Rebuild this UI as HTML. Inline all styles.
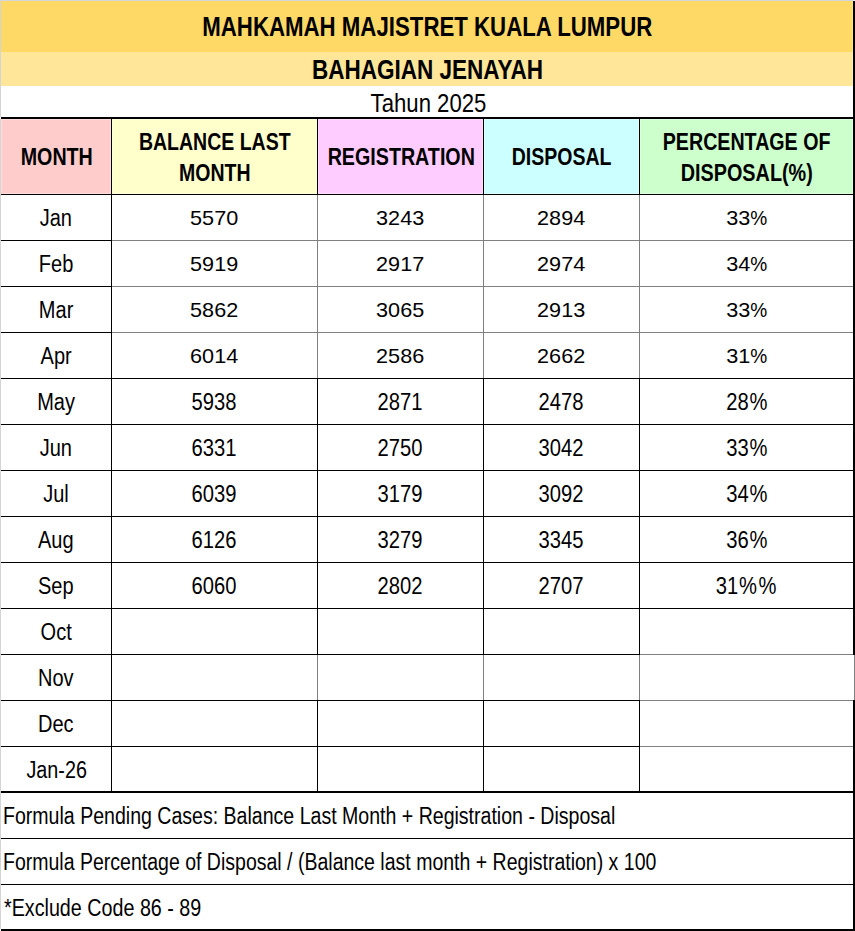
<!DOCTYPE html>
<html lang="ms"><head><meta charset="utf-8"><title>Mahkamah Majistret Kuala Lumpur - Bahagian Jenayah 2025</title>
<style>
html,body{margin:0;padding:0;background:#fff;}
body{width:855px;height:931px;position:relative;overflow:hidden;font-family:"Liberation Sans",sans-serif;color:#000;}
.r{position:absolute;}
.t{position:absolute;white-space:nowrap;}
.t span{display:inline-block;}
.t i{display:inline-block;font-style:normal;transform-origin:50% 50%;}
</style></head><body>
<div class="r" style="left:0px;top:0px;width:855px;height:52px;background:#ffd966"></div>
<div class="r" style="left:0px;top:52px;width:855px;height:34px;background:#ffe699"></div>
<div class="r" style="left:1px;top:119px;width:110px;height:75px;background:#ffcccc;box-shadow:inset 0 0 0 1px #ffdcdc"></div>
<div class="r" style="left:112px;top:119px;width:205px;height:75px;background:#ffffcc;box-shadow:inset 0 0 0 1px #ffffdc"></div>
<div class="r" style="left:318px;top:119px;width:165px;height:75px;background:#ffccff;box-shadow:inset 0 0 0 1px #ffdcff"></div>
<div class="r" style="left:484px;top:119px;width:155px;height:75px;background:#ccffff;box-shadow:inset 0 0 0 1px #dcffff"></div>
<div class="r" style="left:640px;top:119px;width:213px;height:75px;background:#ccffcc;box-shadow:inset 0 0 0 1px #dcffdc"></div>
<div class="r" style="left:0px;top:0px;width:853px;height:1px;background:#d3d5dc"></div>
<div class="r" style="left:853px;top:0px;width:2px;height:1px;background:#f0f0f0"></div>
<div class="r" style="left:0px;top:1px;width:1px;height:116px;background:#d4d4d4"></div>
<div class="r" style="left:0px;top:119px;width:1px;height:810px;background:#d4d4d4"></div>
<div class="r" style="left:852px;top:1px;width:1px;height:51px;background:#ffe47c"></div>
<div class="r" style="left:852px;top:52px;width:1px;height:34px;background:#ffeeb0"></div>
<div class="r" style="left:1px;top:117px;width:854px;height:2px;background:#000"></div>
<div class="r" style="left:1px;top:194px;width:854px;height:1px;background:#000"></div>
<div class="r" style="left:1px;top:240px;width:111px;height:1px;background:#000"></div>
<div class="r" style="left:112px;top:240px;width:741px;height:1px;background:#808080"></div>
<div class="r" style="left:1px;top:286px;width:111px;height:1px;background:#000"></div>
<div class="r" style="left:112px;top:286px;width:741px;height:1px;background:#808080"></div>
<div class="r" style="left:1px;top:332px;width:111px;height:1px;background:#000"></div>
<div class="r" style="left:112px;top:332px;width:741px;height:1px;background:#808080"></div>
<div class="r" style="left:1px;top:378px;width:854px;height:1px;background:#000"></div>
<div class="r" style="left:1px;top:424px;width:854px;height:1px;background:#000"></div>
<div class="r" style="left:1px;top:470px;width:854px;height:1px;background:#000"></div>
<div class="r" style="left:1px;top:516px;width:854px;height:1px;background:#000"></div>
<div class="r" style="left:1px;top:562px;width:854px;height:1px;background:#000"></div>
<div class="r" style="left:1px;top:608px;width:854px;height:1px;background:#000"></div>
<div class="r" style="left:1px;top:654px;width:639px;height:1px;background:#000"></div>
<div class="r" style="left:640px;top:654px;width:215px;height:1px;background:#808080"></div>
<div class="r" style="left:1px;top:700px;width:639px;height:1px;background:#000"></div>
<div class="r" style="left:640px;top:700px;width:215px;height:1px;background:#808080"></div>
<div class="r" style="left:1px;top:746px;width:639px;height:1px;background:#000"></div>
<div class="r" style="left:640px;top:746px;width:215px;height:1px;background:#808080"></div>
<div class="r" style="left:1px;top:791px;width:854px;height:2px;background:#000"></div>
<div class="r" style="left:1px;top:838px;width:854px;height:1px;background:#000"></div>
<div class="r" style="left:1px;top:884px;width:854px;height:1px;background:#000"></div>
<div class="r" style="left:1px;top:929px;width:854px;height:2px;background:#000"></div>
<div class="r" style="left:111px;top:119px;width:1px;height:672px;background:#000"></div>
<div class="r" style="left:317px;top:119px;width:1px;height:76px;background:#000"></div>
<div class="r" style="left:317px;top:195px;width:1px;height:183px;background:#808080"></div>
<div class="r" style="left:317px;top:378px;width:1px;height:277px;background:#000"></div>
<div class="r" style="left:317px;top:655px;width:1px;height:45px;background:#808080"></div>
<div class="r" style="left:317px;top:700px;width:1px;height:91px;background:#000"></div>
<div class="r" style="left:483px;top:119px;width:1px;height:76px;background:#000"></div>
<div class="r" style="left:483px;top:195px;width:1px;height:183px;background:#808080"></div>
<div class="r" style="left:483px;top:378px;width:1px;height:277px;background:#000"></div>
<div class="r" style="left:483px;top:655px;width:1px;height:45px;background:#808080"></div>
<div class="r" style="left:483px;top:700px;width:1px;height:91px;background:#000"></div>
<div class="r" style="left:639px;top:119px;width:1px;height:76px;background:#000"></div>
<div class="r" style="left:639px;top:195px;width:1px;height:183px;background:#808080"></div>
<div class="r" style="left:639px;top:378px;width:1px;height:277px;background:#000"></div>
<div class="r" style="left:639px;top:655px;width:1px;height:45px;background:#808080"></div>
<div class="r" style="left:639px;top:700px;width:1px;height:91px;background:#000"></div>
<div class="r" style="left:853px;top:1px;width:2px;height:654px;background:#000"></div>
<div class="r" style="left:854px;top:655px;width:1px;height:45px;background:#808080"></div>
<div class="r" style="left:853px;top:700px;width:2px;height:231px;background:#000"></div>
<div class="t" style="left:-173.00px;width:1200px;text-align:center;top:12.62px;font-size:27.5px;line-height:27.5px;font-weight:bold;"><span style="transform:scaleX(0.8085);transform-origin:50% 50%">MAHKAMAH MAJISTRET KUALA LUMPUR</span></div>
<div class="t" style="left:-172.25px;width:1200px;text-align:center;top:55.88px;font-size:27.2px;line-height:27.2px;font-weight:bold;"><span style="transform:scaleX(0.8280);transform-origin:50% 50%">BAHAGIAN JENAYAH</span></div>
<div class="t" style="left:-171.90px;width:1200px;text-align:center;top:89.58px;font-size:26.6px;line-height:26.6px;"><span style="transform:scaleX(0.8330);transform-origin:50% 50%">Tahun 2025</span></div>
<div class="t" style="left:-543.10px;width:1200px;text-align:center;top:145.95px;font-size:23.33px;line-height:23.33px;font-weight:bold;"><span style="transform:scaleX(0.8430);transform-origin:50% 50%">MONTH</span></div>
<div class="t" style="left:-385.15px;width:1200px;text-align:center;top:131.35px;font-size:23.33px;line-height:23.33px;font-weight:bold;"><span style="transform:scaleX(0.8360);transform-origin:50% 50%">BALANCE LAST</span></div>
<div class="t" style="left:-385.30px;width:1200px;text-align:center;top:162.45px;font-size:23.33px;line-height:23.33px;font-weight:bold;"><span style="transform:scaleX(0.8360);transform-origin:50% 50%">MONTH</span></div>
<div class="t" style="left:-198.85px;width:1200px;text-align:center;top:146.05px;font-size:23.33px;line-height:23.33px;font-weight:bold;"><span style="transform:scaleX(0.8435);transform-origin:50% 50%">REGISTRATION</span></div>
<div class="t" style="left:-38.30px;width:1200px;text-align:center;top:145.95px;font-size:23.33px;line-height:23.33px;font-weight:bold;"><span style="transform:scaleX(0.8360);transform-origin:50% 50%">DISPOSAL</span></div>
<div class="t" style="left:146.75px;width:1200px;text-align:center;top:131.25px;font-size:23.33px;line-height:23.33px;font-weight:bold;"><span style="transform:scaleX(0.8416);transform-origin:50% 50%">PERCENTAGE OF</span></div>
<div class="t" style="left:146.90px;width:1200px;text-align:center;top:162.45px;font-size:23.33px;line-height:23.33px;font-weight:bold;"><span style="transform:scaleX(0.8490);transform-origin:50% 50%">DISPOSAL(%)</span></div>
<div class="t" style="left:-544.00px;width:1200px;text-align:center;top:206.95px;font-size:23.33px;line-height:23.33px;"><span style="transform:scaleX(0.8570);transform-origin:50% 50%">Jan</span></div>
<div class="t" style="left:-385.70px;width:1200px;text-align:center;top:208.09px;font-size:20.8px;line-height:20.8px;"><span style="transform:scaleX(1.0400);transform-origin:50% 50%">5570</span></div>
<div class="t" style="left:-199.80px;width:1200px;text-align:center;top:208.09px;font-size:20.8px;line-height:20.8px;"><span style="transform:scaleX(1.0400);transform-origin:50% 50%">3243</span></div>
<div class="t" style="left:-38.80px;width:1200px;text-align:center;top:208.09px;font-size:20.8px;line-height:20.8px;"><span style="transform:scaleX(1.0400);transform-origin:50% 50%">2894</span></div>
<div class="t" style="left:146.80px;width:1200px;text-align:center;top:208.09px;font-size:20.8px;line-height:20.8px;"><span style="transform:scaleX(1.0400);transform-origin:50% 50%">33<i style="transform:scaleX(0.884);margin:0 -0.0516em">%</i></span></div>
<div class="t" style="left:-544.00px;width:1200px;text-align:center;top:252.95px;font-size:23.33px;line-height:23.33px;"><span style="transform:scaleX(0.8570);transform-origin:50% 50%">Feb</span></div>
<div class="t" style="left:-385.70px;width:1200px;text-align:center;top:254.09px;font-size:20.8px;line-height:20.8px;"><span style="transform:scaleX(1.0400);transform-origin:50% 50%">5919</span></div>
<div class="t" style="left:-199.80px;width:1200px;text-align:center;top:254.09px;font-size:20.8px;line-height:20.8px;"><span style="transform:scaleX(1.0400);transform-origin:50% 50%">2917</span></div>
<div class="t" style="left:-38.80px;width:1200px;text-align:center;top:254.09px;font-size:20.8px;line-height:20.8px;"><span style="transform:scaleX(1.0400);transform-origin:50% 50%">2974</span></div>
<div class="t" style="left:146.80px;width:1200px;text-align:center;top:254.09px;font-size:20.8px;line-height:20.8px;"><span style="transform:scaleX(1.0400);transform-origin:50% 50%">34<i style="transform:scaleX(0.884);margin:0 -0.0516em">%</i></span></div>
<div class="t" style="left:-544.00px;width:1200px;text-align:center;top:298.95px;font-size:23.33px;line-height:23.33px;"><span style="transform:scaleX(0.8570);transform-origin:50% 50%">Mar</span></div>
<div class="t" style="left:-385.70px;width:1200px;text-align:center;top:300.09px;font-size:20.8px;line-height:20.8px;"><span style="transform:scaleX(1.0400);transform-origin:50% 50%">5862</span></div>
<div class="t" style="left:-199.80px;width:1200px;text-align:center;top:300.09px;font-size:20.8px;line-height:20.8px;"><span style="transform:scaleX(1.0400);transform-origin:50% 50%">3065</span></div>
<div class="t" style="left:-38.80px;width:1200px;text-align:center;top:300.09px;font-size:20.8px;line-height:20.8px;"><span style="transform:scaleX(1.0400);transform-origin:50% 50%">2913</span></div>
<div class="t" style="left:146.80px;width:1200px;text-align:center;top:300.09px;font-size:20.8px;line-height:20.8px;"><span style="transform:scaleX(1.0400);transform-origin:50% 50%">33<i style="transform:scaleX(0.884);margin:0 -0.0516em">%</i></span></div>
<div class="t" style="left:-544.00px;width:1200px;text-align:center;top:344.95px;font-size:23.33px;line-height:23.33px;"><span style="transform:scaleX(0.8570);transform-origin:50% 50%">Apr</span></div>
<div class="t" style="left:-385.70px;width:1200px;text-align:center;top:346.09px;font-size:20.8px;line-height:20.8px;"><span style="transform:scaleX(1.0400);transform-origin:50% 50%">6014</span></div>
<div class="t" style="left:-199.80px;width:1200px;text-align:center;top:346.09px;font-size:20.8px;line-height:20.8px;"><span style="transform:scaleX(1.0400);transform-origin:50% 50%">2586</span></div>
<div class="t" style="left:-38.80px;width:1200px;text-align:center;top:346.09px;font-size:20.8px;line-height:20.8px;"><span style="transform:scaleX(1.0400);transform-origin:50% 50%">2662</span></div>
<div class="t" style="left:146.80px;width:1200px;text-align:center;top:346.09px;font-size:20.8px;line-height:20.8px;"><span style="transform:scaleX(1.0400);transform-origin:50% 50%">31<i style="transform:scaleX(0.884);margin:0 -0.0516em">%</i></span></div>
<div class="t" style="left:-544.00px;width:1200px;text-align:center;top:390.95px;font-size:23.33px;line-height:23.33px;"><span style="transform:scaleX(0.8570);transform-origin:50% 50%">May</span></div>
<div class="t" style="left:-385.70px;width:1200px;text-align:center;top:390.95px;font-size:23.33px;line-height:23.33px;"><span style="transform:scaleX(0.8650);transform-origin:50% 50%">5938</span></div>
<div class="t" style="left:-199.80px;width:1200px;text-align:center;top:390.95px;font-size:23.33px;line-height:23.33px;"><span style="transform:scaleX(0.8650);transform-origin:50% 50%">2871</span></div>
<div class="t" style="left:-38.80px;width:1200px;text-align:center;top:390.95px;font-size:23.33px;line-height:23.33px;"><span style="transform:scaleX(0.8650);transform-origin:50% 50%">2478</span></div>
<div class="t" style="left:146.80px;width:1200px;text-align:center;top:390.95px;font-size:23.33px;line-height:23.33px;"><span style="transform:scaleX(0.8650);transform-origin:50% 50%">28<i style="transform:scaleX(1.0);margin:0 0.0370em">%</i></span></div>
<div class="t" style="left:-544.00px;width:1200px;text-align:center;top:436.95px;font-size:23.33px;line-height:23.33px;"><span style="transform:scaleX(0.8570);transform-origin:50% 50%">Jun</span></div>
<div class="t" style="left:-385.70px;width:1200px;text-align:center;top:436.95px;font-size:23.33px;line-height:23.33px;"><span style="transform:scaleX(0.8650);transform-origin:50% 50%">6331</span></div>
<div class="t" style="left:-199.80px;width:1200px;text-align:center;top:436.95px;font-size:23.33px;line-height:23.33px;"><span style="transform:scaleX(0.8650);transform-origin:50% 50%">2750</span></div>
<div class="t" style="left:-38.80px;width:1200px;text-align:center;top:436.95px;font-size:23.33px;line-height:23.33px;"><span style="transform:scaleX(0.8650);transform-origin:50% 50%">3042</span></div>
<div class="t" style="left:146.80px;width:1200px;text-align:center;top:436.95px;font-size:23.33px;line-height:23.33px;"><span style="transform:scaleX(0.8650);transform-origin:50% 50%">33<i style="transform:scaleX(1.0);margin:0 0.0370em">%</i></span></div>
<div class="t" style="left:-544.00px;width:1200px;text-align:center;top:482.95px;font-size:23.33px;line-height:23.33px;"><span style="transform:scaleX(0.8570);transform-origin:50% 50%">Jul</span></div>
<div class="t" style="left:-385.70px;width:1200px;text-align:center;top:482.95px;font-size:23.33px;line-height:23.33px;"><span style="transform:scaleX(0.8650);transform-origin:50% 50%">6039</span></div>
<div class="t" style="left:-199.80px;width:1200px;text-align:center;top:482.95px;font-size:23.33px;line-height:23.33px;"><span style="transform:scaleX(0.8650);transform-origin:50% 50%">3179</span></div>
<div class="t" style="left:-38.80px;width:1200px;text-align:center;top:482.95px;font-size:23.33px;line-height:23.33px;"><span style="transform:scaleX(0.8650);transform-origin:50% 50%">3092</span></div>
<div class="t" style="left:146.80px;width:1200px;text-align:center;top:482.95px;font-size:23.33px;line-height:23.33px;"><span style="transform:scaleX(0.8650);transform-origin:50% 50%">34<i style="transform:scaleX(1.0);margin:0 0.0370em">%</i></span></div>
<div class="t" style="left:-544.00px;width:1200px;text-align:center;top:528.95px;font-size:23.33px;line-height:23.33px;"><span style="transform:scaleX(0.8570);transform-origin:50% 50%">Aug</span></div>
<div class="t" style="left:-385.70px;width:1200px;text-align:center;top:528.95px;font-size:23.33px;line-height:23.33px;"><span style="transform:scaleX(0.8650);transform-origin:50% 50%">6126</span></div>
<div class="t" style="left:-199.80px;width:1200px;text-align:center;top:528.95px;font-size:23.33px;line-height:23.33px;"><span style="transform:scaleX(0.8650);transform-origin:50% 50%">3279</span></div>
<div class="t" style="left:-38.80px;width:1200px;text-align:center;top:528.95px;font-size:23.33px;line-height:23.33px;"><span style="transform:scaleX(0.8650);transform-origin:50% 50%">3345</span></div>
<div class="t" style="left:146.80px;width:1200px;text-align:center;top:528.95px;font-size:23.33px;line-height:23.33px;"><span style="transform:scaleX(0.8650);transform-origin:50% 50%">36<i style="transform:scaleX(1.0);margin:0 0.0370em">%</i></span></div>
<div class="t" style="left:-544.00px;width:1200px;text-align:center;top:574.95px;font-size:23.33px;line-height:23.33px;"><span style="transform:scaleX(0.8570);transform-origin:50% 50%">Sep</span></div>
<div class="t" style="left:-385.70px;width:1200px;text-align:center;top:574.95px;font-size:23.33px;line-height:23.33px;"><span style="transform:scaleX(0.8650);transform-origin:50% 50%">6060</span></div>
<div class="t" style="left:-199.80px;width:1200px;text-align:center;top:574.95px;font-size:23.33px;line-height:23.33px;"><span style="transform:scaleX(0.8650);transform-origin:50% 50%">2802</span></div>
<div class="t" style="left:-38.80px;width:1200px;text-align:center;top:574.95px;font-size:23.33px;line-height:23.33px;"><span style="transform:scaleX(0.8650);transform-origin:50% 50%">2707</span></div>
<div class="t" style="left:146.80px;width:1200px;text-align:center;top:574.95px;font-size:23.33px;line-height:23.33px;"><span style="transform:scaleX(0.8650);transform-origin:50% 50%">31<i style="transform:scaleX(1.0);margin:0 0.0370em">%</i><i style="transform:scaleX(1.0);margin:0 0.0370em">%</i></span></div>
<div class="t" style="left:-544.00px;width:1200px;text-align:center;top:620.95px;font-size:23.33px;line-height:23.33px;"><span style="transform:scaleX(0.8570);transform-origin:50% 50%">Oct</span></div>
<div class="t" style="left:-544.00px;width:1200px;text-align:center;top:666.95px;font-size:23.33px;line-height:23.33px;"><span style="transform:scaleX(0.8570);transform-origin:50% 50%">Nov</span></div>
<div class="t" style="left:-544.00px;width:1200px;text-align:center;top:712.95px;font-size:23.33px;line-height:23.33px;"><span style="transform:scaleX(0.8570);transform-origin:50% 50%">Dec</span></div>
<div class="t" style="left:-543.40px;width:1200px;text-align:center;top:758.95px;font-size:23.33px;line-height:23.33px;"><span style="transform:scaleX(0.8480);transform-origin:50% 50%">Jan-26</span></div>
<div class="t" style="left:2.50px;text-align:left;top:805.15px;font-size:23.33px;line-height:23.33px;"><span style="transform:scaleX(0.8380);transform-origin:0 50%">Formula Pending Cases: Balance Last Month + Registration - Disposal</span></div>
<div class="t" style="left:2.50px;text-align:left;top:850.85px;font-size:23.33px;line-height:23.33px;"><span style="transform:scaleX(0.8363);transform-origin:0 50%">Formula Percentage of Disposal / (Balance last month + Registration) x 100</span></div>
<div class="t" style="left:3.60px;text-align:left;top:896.75px;font-size:23.33px;line-height:23.33px;"><span style="transform:scaleX(0.8450);transform-origin:0 50%">*Exclude Code 86 - 89</span></div>
</body></html>
